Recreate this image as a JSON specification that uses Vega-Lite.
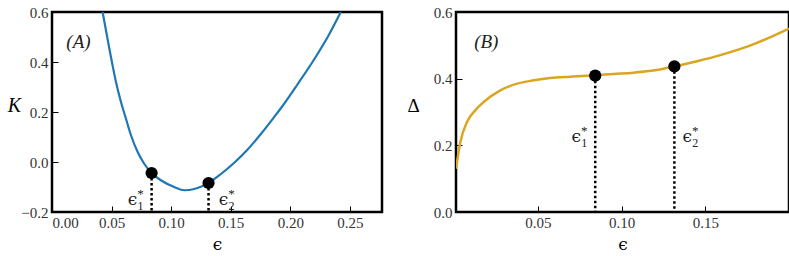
{
  "$schema": "https://vega.github.io/schema/vega-lite/v6.json",
  "padding": {"left": 6, "top": 3, "right": 0, "bottom": 0},
  "spacing": 21,
  "background": "white",
  "config": {
    "view": {"stroke": "black", "strokeWidth": 2.5},
    "font": "Liberation Serif",
    "text": {"font": "Liberation Serif"},
    "axis": {
      "grid": false, "domain": false, "tickColor": "black", "tickSize": 6, "offset": -6, "tickWidth": 1,
      "labelFont": "Liberation Serif", "labelFontSize": 15, "labelColor": "#333",
      "titleFont": "Liberation Serif", "titleFontWeight": "normal", "titleColor": "black"
    },
    "axisX": {"labelPadding": 3, "titlePadding": 6, "titleFontSize": 17, "titleFont": "DejaVu Serif"},
    "axisY": {"labelPadding": 4, "titleAngle": 0, "titleAlign": "center", "titleBaseline": "middle"}
  },
  "datasets": {
    "curveA": [
      {"eps": 0.0425, "v": 0.6}, {"eps": 0.0503, "v": 0.4}, {"eps": 0.0537, "v": 0.32}, {"eps": 0.0579, "v": 0.24},
      {"eps": 0.0621, "v": 0.173}, {"eps": 0.0663, "v": 0.107}, {"eps": 0.0719, "v": 0.04}, {"eps": 0.0774, "v": -0.007},
      {"eps": 0.0836, "v": -0.044}, {"eps": 0.0914, "v": -0.073}, {"eps": 0.1026, "v": -0.1}, {"eps": 0.111, "v": -0.113},
      {"eps": 0.1194, "v": -0.108}, {"eps": 0.125, "v": -0.099}, {"eps": 0.1314, "v": -0.084}, {"eps": 0.1418, "v": -0.048},
      {"eps": 0.153, "v": -0.003}, {"eps": 0.1642, "v": 0.05}, {"eps": 0.1753, "v": 0.112}, {"eps": 0.1865, "v": 0.18},
      {"eps": 0.1921, "v": 0.215}, {"eps": 0.206, "v": 0.31}, {"eps": 0.22, "v": 0.41}, {"eps": 0.232, "v": 0.505},
      {"eps": 0.2424, "v": 0.6}
    ],
    "ptsA": [{"eps": 0.0836, "v": -0.044, "k": 1}, {"eps": 0.1314, "v": -0.084, "k": 2}],
    "curveB": [
      {"eps": 0.001, "v": 0.13}, {"eps": 0.0036, "v": 0.21}, {"eps": 0.0076, "v": 0.27}, {"eps": 0.0125, "v": 0.305},
      {"eps": 0.0175, "v": 0.33}, {"eps": 0.0275, "v": 0.365}, {"eps": 0.0375, "v": 0.385}, {"eps": 0.0475, "v": 0.395},
      {"eps": 0.0573, "v": 0.402}, {"eps": 0.0693, "v": 0.406}, {"eps": 0.0842, "v": 0.41}, {"eps": 0.095, "v": 0.414},
      {"eps": 0.107, "v": 0.418}, {"eps": 0.12, "v": 0.425}, {"eps": 0.132, "v": 0.437}, {"eps": 0.145, "v": 0.452},
      {"eps": 0.16, "v": 0.472}, {"eps": 0.1798, "v": 0.505}, {"eps": 0.19, "v": 0.527}, {"eps": 0.2, "v": 0.55}
    ],
    "ptsB": [{"eps": 0.0842, "v": 0.409, "k": 1}, {"eps": 0.1315, "v": 0.437, "k": 2}]
  },
  "hconcat": [
    {
      "width": 330, "height": 200,
      "layer": [
        {
          "data": {"name": "curveA"},
          "mark": {"type": "line", "color": "#1f77b4", "strokeWidth": 2.2, "clip": true, "interpolate": "monotone"},
          "encoding": {
            "x": {"field": "eps", "type": "quantitative", "scale": {"domain": [0, 0.277], "nice": false, "zero": false},
                  "axis": {"title": "ϵ", "values": [0, 0.05, 0.1, 0.15, 0.2, 0.25], "format": ".2f"}},
            "y": {"field": "v", "type": "quantitative", "scale": {"domain": [-0.2, 0.6], "nice": false, "zero": false},
                  "axis": {"title": "K", "titleFontStyle": "italic", "titleFontSize": 20, "titleX": -44, "titleY": 93,
                           "values": [-0.2, 0, 0.2, 0.4, 0.6], "format": ".1f"}}
          }
        },
        {
          "data": {"name": "ptsA"},
          "mark": {"type": "rule", "color": "black", "strokeWidth": 2.5, "strokeDash": [2.5, 2.5]},
          "encoding": {"x": {"field": "eps", "type": "quantitative"}, "y": {"field": "v", "type": "quantitative"}, "y2": {"datum": -0.2}}
        },
        {
          "data": {"name": "ptsA"},
          "mark": {"type": "circle", "color": "black", "opacity": 1, "size": 150},
          "encoding": {"x": {"field": "eps", "type": "quantitative"}, "y": {"field": "v", "type": "quantitative"}}
        },
        {
          "data": {"name": "ptsA"}, "transform": [{"filter": "datum.k == 1"}],
          "mark": {"type": "text", "text": "ϵ", "font": "DejaVu Serif", "fontSize": 17, "color": "#222", "dx": -19, "baseline": "middle"},
          "encoding": {"x": {"field": "eps", "type": "quantitative"}, "y": {"datum": -0.152}}
        },
        {
          "data": {"name": "ptsA"}, "transform": [{"filter": "datum.k == 1"}],
          "mark": {"type": "text", "text": "1", "fontSize": 12, "color": "#222", "dx": -11, "dy": 6, "baseline": "middle"},
          "encoding": {"x": {"field": "eps", "type": "quantitative"}, "y": {"datum": -0.152}}
        },
        {
          "data": {"name": "ptsA"}, "transform": [{"filter": "datum.k == 1"}],
          "mark": {"type": "text", "text": "*", "fontSize": 13, "color": "#222", "dx": -11, "dy": -6, "baseline": "middle"},
          "encoding": {"x": {"field": "eps", "type": "quantitative"}, "y": {"datum": -0.152}}
        },
        {
          "data": {"name": "ptsA"}, "transform": [{"filter": "datum.k == 2"}],
          "mark": {"type": "text", "text": "ϵ", "font": "DejaVu Serif", "fontSize": 17, "color": "#222", "dx": 15, "baseline": "middle"},
          "encoding": {"x": {"field": "eps", "type": "quantitative"}, "y": {"datum": -0.152}}
        },
        {
          "data": {"name": "ptsA"}, "transform": [{"filter": "datum.k == 2"}],
          "mark": {"type": "text", "text": "2", "fontSize": 12, "color": "#222", "dx": 23, "dy": 6, "baseline": "middle"},
          "encoding": {"x": {"field": "eps", "type": "quantitative"}, "y": {"datum": -0.152}}
        },
        {
          "data": {"name": "ptsA"}, "transform": [{"filter": "datum.k == 2"}],
          "mark": {"type": "text", "text": "*", "fontSize": 13, "color": "#222", "dx": 23, "dy": -6, "baseline": "middle"},
          "encoding": {"x": {"field": "eps", "type": "quantitative"}, "y": {"datum": -0.152}}
        },
        {
          "data": {"values": [{"lab": "(A)"}]},
          "mark": {"type": "text", "fontSize": 19, "fontStyle": "italic", "color": "#222", "baseline": "middle"},
          "encoding": {"text": {"field": "lab"}, "x": {"datum": 0.0222}, "y": {"datum": 0.48}}
        }
      ]
    },
    {
      "width": 333, "height": 200,
      "layer": [
        {
          "data": {"name": "curveB"},
          "mark": {"type": "line", "color": "#DAA520", "strokeWidth": 2.5, "clip": true, "interpolate": "monotone"},
          "encoding": {
            "x": {"field": "eps", "type": "quantitative", "scale": {"domain": [0.001, 0.2], "nice": false, "zero": false},
                  "axis": {"title": "ϵ", "values": [0.05, 0.1, 0.15], "format": ".2f"}},
            "y": {"field": "v", "type": "quantitative", "scale": {"domain": [0, 0.6], "nice": false},
                  "axis": {"title": "Δ", "titleFontSize": 19, "titleX": -49, "titleY": 93,
                           "values": [0, 0.2, 0.4, 0.6], "format": ".1f"}}
          }
        },
        {
          "data": {"name": "ptsB"},
          "mark": {"type": "rule", "color": "black", "strokeWidth": 2.5, "strokeDash": [2.5, 2.5]},
          "encoding": {"x": {"field": "eps", "type": "quantitative"}, "y": {"field": "v", "type": "quantitative"}, "y2": {"datum": 0}}
        },
        {
          "data": {"name": "ptsB"},
          "mark": {"type": "circle", "color": "black", "opacity": 1, "size": 150},
          "encoding": {"x": {"field": "eps", "type": "quantitative"}, "y": {"field": "v", "type": "quantitative"}}
        },
        {
          "data": {"name": "ptsB"}, "transform": [{"filter": "datum.k == 1"}],
          "mark": {"type": "text", "text": "ϵ", "font": "DejaVu Serif", "fontSize": 17, "color": "#222", "dx": -19, "baseline": "middle"},
          "encoding": {"x": {"field": "eps", "type": "quantitative"}, "y": {"datum": 0.225}}
        },
        {
          "data": {"name": "ptsB"}, "transform": [{"filter": "datum.k == 1"}],
          "mark": {"type": "text", "text": "1", "fontSize": 12, "color": "#222", "dx": -11, "dy": 6, "baseline": "middle"},
          "encoding": {"x": {"field": "eps", "type": "quantitative"}, "y": {"datum": 0.225}}
        },
        {
          "data": {"name": "ptsB"}, "transform": [{"filter": "datum.k == 1"}],
          "mark": {"type": "text", "text": "*", "fontSize": 13, "color": "#222", "dx": -11, "dy": -6, "baseline": "middle"},
          "encoding": {"x": {"field": "eps", "type": "quantitative"}, "y": {"datum": 0.225}}
        },
        {
          "data": {"name": "ptsB"}, "transform": [{"filter": "datum.k == 2"}],
          "mark": {"type": "text", "text": "ϵ", "font": "DejaVu Serif", "fontSize": 17, "color": "#222", "dx": 13, "baseline": "middle"},
          "encoding": {"x": {"field": "eps", "type": "quantitative"}, "y": {"datum": 0.225}}
        },
        {
          "data": {"name": "ptsB"}, "transform": [{"filter": "datum.k == 2"}],
          "mark": {"type": "text", "text": "2", "fontSize": 12, "color": "#222", "dx": 21, "dy": 6, "baseline": "middle"},
          "encoding": {"x": {"field": "eps", "type": "quantitative"}, "y": {"datum": 0.225}}
        },
        {
          "data": {"name": "ptsB"}, "transform": [{"filter": "datum.k == 2"}],
          "mark": {"type": "text", "text": "*", "fontSize": 13, "color": "#222", "dx": 21, "dy": -6, "baseline": "middle"},
          "encoding": {"x": {"field": "eps", "type": "quantitative"}, "y": {"datum": 0.225}}
        },
        {
          "data": {"values": [{"lab": "(B)"}]},
          "mark": {"type": "text", "fontSize": 19, "fontStyle": "italic", "color": "#222", "baseline": "middle"},
          "encoding": {"text": {"field": "lab"}, "x": {"datum": 0.0191}, "y": {"datum": 0.51}}
        }
      ]
    }
  ]
}
